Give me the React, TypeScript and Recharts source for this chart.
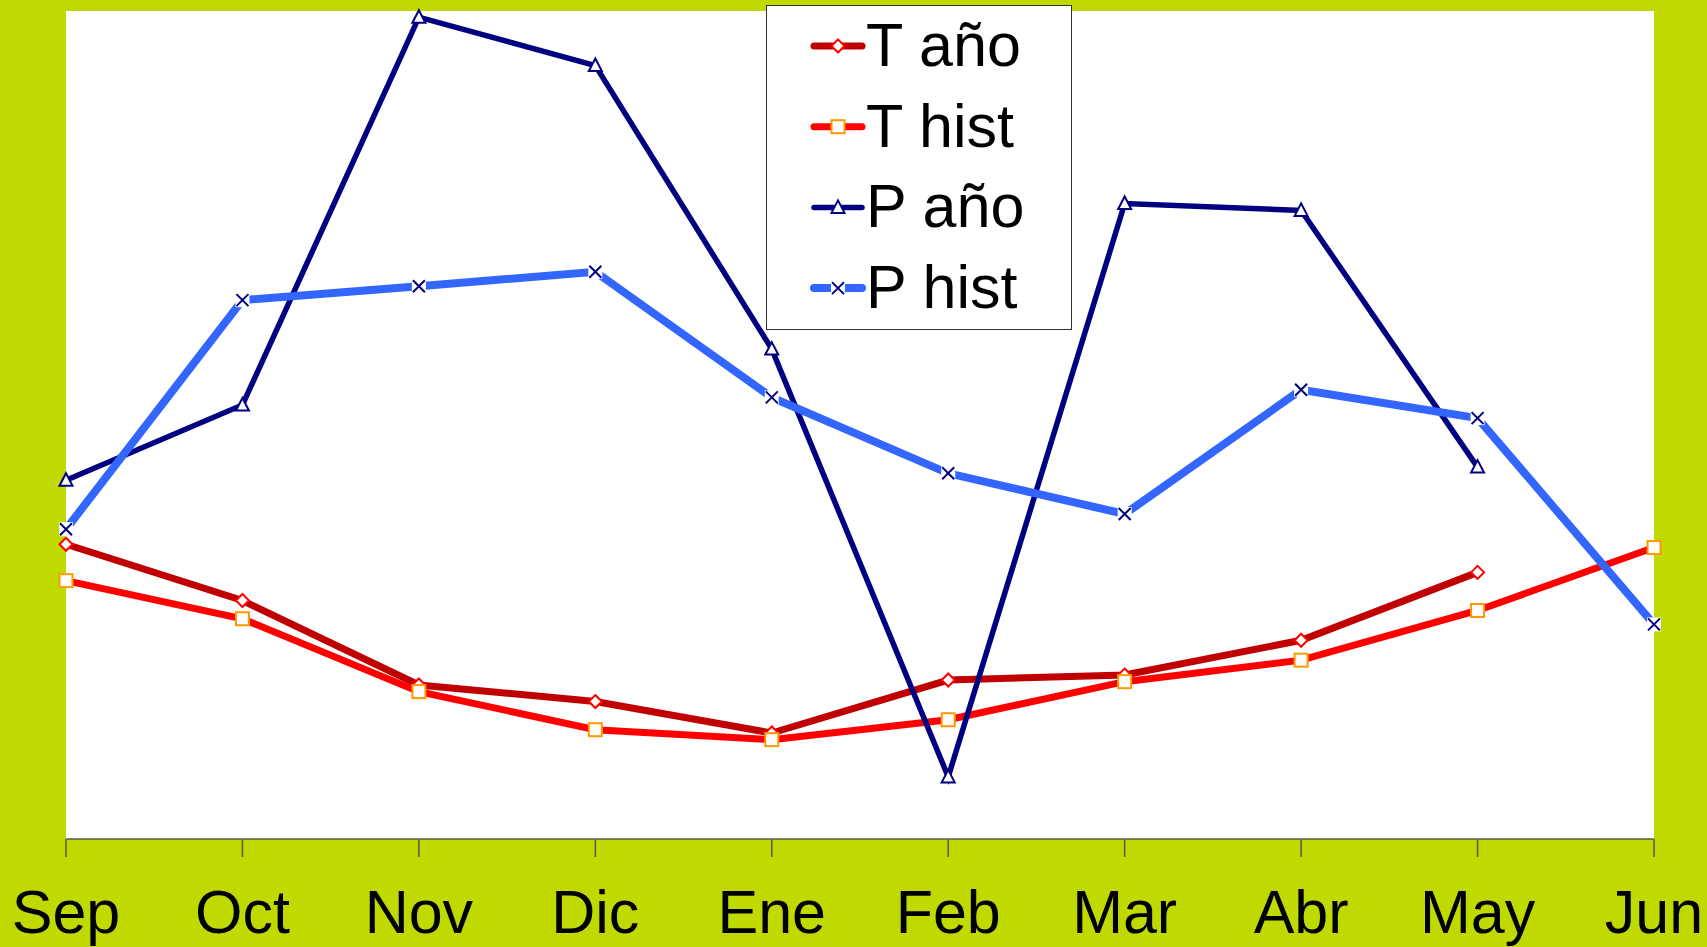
import React from "react";
import { LineChart, Line, XAxis, YAxis, CartesianGrid, Legend } from "recharts";

const months = ["Sep", "Oct", "Nov", "Dic", "Ene", "Feb", "Mar", "Abr", "May", "Jun"];
// temperatures (°C)
const tAno = [17.8, 14.4, 9.3, 8.3, 6.4, 9.6, 9.9, 12.0, 16.1, null];
const tHist = [15.6, 13.3, 8.9, 6.6, 6.0, 7.2, 9.5, 10.8, 13.8, 17.6];
// precipitation (mm)
const pAno = [52.0, 62.9, 119.1, 112.1, 71.0, 9.0, 92.1, 91.1, 53.9, null];
const pHist = [44.9, 78.1, 80.1, 82.2, 64.0, 53.0, 47.1, 65.1, 61.0, 31.1];

const data = months.map((m, i) => ({
  month: m,
  tAno: tAno[i],
  tHist: tHist[i],
  pAno: pAno[i],
  pHist: pHist[i],
}));

const FONT = "'Liberation Sans', Arial, sans-serif";

type Shape = "diamond" | "square" | "triangle" | "cross";

function Marker({ shape, cx, cy }: { shape: Shape; cx: number; cy: number }) {
  if (shape === "diamond") {
    return (
      <path
        d={`M${cx} ${cy - 6.5}L${cx + 6.5} ${cy}L${cx} ${cy + 6.5}L${cx - 6.5} ${cy}Z`}
        fill="#fff"
        stroke="#FF0000"
        strokeWidth={2}
      />
    );
  }
  if (shape === "square") {
    return (
      <rect x={cx - 6.5} y={cy - 6.5} width={13} height={13} fill="#fff" stroke="#FF9900" strokeWidth={2} />
    );
  }
  if (shape === "triangle") {
    return (
      <path
        d={`M${cx} ${cy - 7}L${cx + 6.5} ${cy + 5.5}L${cx - 6.5} ${cy + 5.5}Z`}
        fill="#fff"
        stroke="#000080"
        strokeWidth={2}
      />
    );
  }
  return (
    <g>
      <rect x={cx - 7} y={cy - 7} width={14} height={14} fill="#fff" />
      <path
        d={`M${cx - 6} ${cy - 6}L${cx + 6} ${cy + 6}M${cx + 6} ${cy - 6}L${cx - 6} ${cy + 6}`}
        stroke="#000080"
        strokeWidth={2}
      />
    </g>
  );
}

const makeDot = (shape: Shape) => (props: any) => {
  const { cx, cy, index, value, dataKey } = props;
  if (cx == null || cy == null || value == null) return <g key={`${dataKey}-${index}`} />;
  return (
    <g key={`${dataKey}-${index}`}>
      <Marker shape={shape} cx={cx} cy={cy} />
    </g>
  );
};

const series = [
  { key: "tAno", name: "T año", axis: "t", color: "#C00000", width: 7, shape: "diamond" as Shape },
  { key: "tHist", name: "T hist", axis: "t", color: "#FF0000", width: 7, shape: "square" as Shape },
  { key: "pAno", name: "P año", axis: "p", color: "#000080", width: 5.5, shape: "triangle" as Shape },
  { key: "pHist", name: "P hist", axis: "p", color: "#3366FF", width: 8, shape: "cross" as Shape },
];

function LegendBox() {
  return (
    <svg width={306} height={325} style={{ display: "block" }}>
      <rect x={0.5} y={0.5} width={305} height={324} fill="#fff" stroke="#333" strokeWidth={1} />
      {series.map((s, i) => {
        const y = 41 + i * 80.7;
        return (
          <g key={s.key}>
            <line x1={48} x2={96} y1={y} y2={y} stroke={s.color} strokeWidth={s.width} strokeLinecap="round" />
            <Marker shape={s.shape} cx={72} cy={y} />
            <text x={100} y={y + 20} fontFamily={FONT} fontSize={61} fill="#000">
              {s.name}
            </text>
          </g>
        );
      })}
    </svg>
  );
}

export default function App() {
  return (
    <div style={{ position: "absolute", left: 0, top: 0, width: 1707, height: 947, background: "#C0D900" }}>
      <LineChart width={1707} height={947} data={data} margin={{ top: 11, right: 53, left: 66, bottom: 8 }}>
        <CartesianGrid horizontal={false} vertical={false} fill="#fff" stroke="none" />
        <XAxis
          dataKey="month"
          interval={0}
          height={100}
          stroke="#5a5a4a"
          strokeWidth={1.5}
          tickSize={18}
          tickMargin={33}
          tick={{ fill: "#000", fontSize: 61, fontFamily: FONT }}
        />
        <YAxis yAxisId="t" domain={[0, 50]} hide />
        <YAxis yAxisId="p" domain={[0, 120]} orientation="right" hide />
        {series.map((s) => (
          <Line
            key={s.key}
            yAxisId={s.axis}
            dataKey={s.key}
            name={s.name}
            type="linear"
            stroke={s.color}
            strokeWidth={s.width}
            dot={makeDot(s.shape)}
            activeDot={false}
            isAnimationActive={false}
          />
        ))}
        <Legend
          layout="horizontal"
          align="center"
          verticalAlign="middle"
          content={() => <LegendBox />}
          wrapperStyle={{ position: "absolute", left: 766, top: 5, width: 306, height: 325 }}
        />
      </LineChart>
    </div>
  );
}
